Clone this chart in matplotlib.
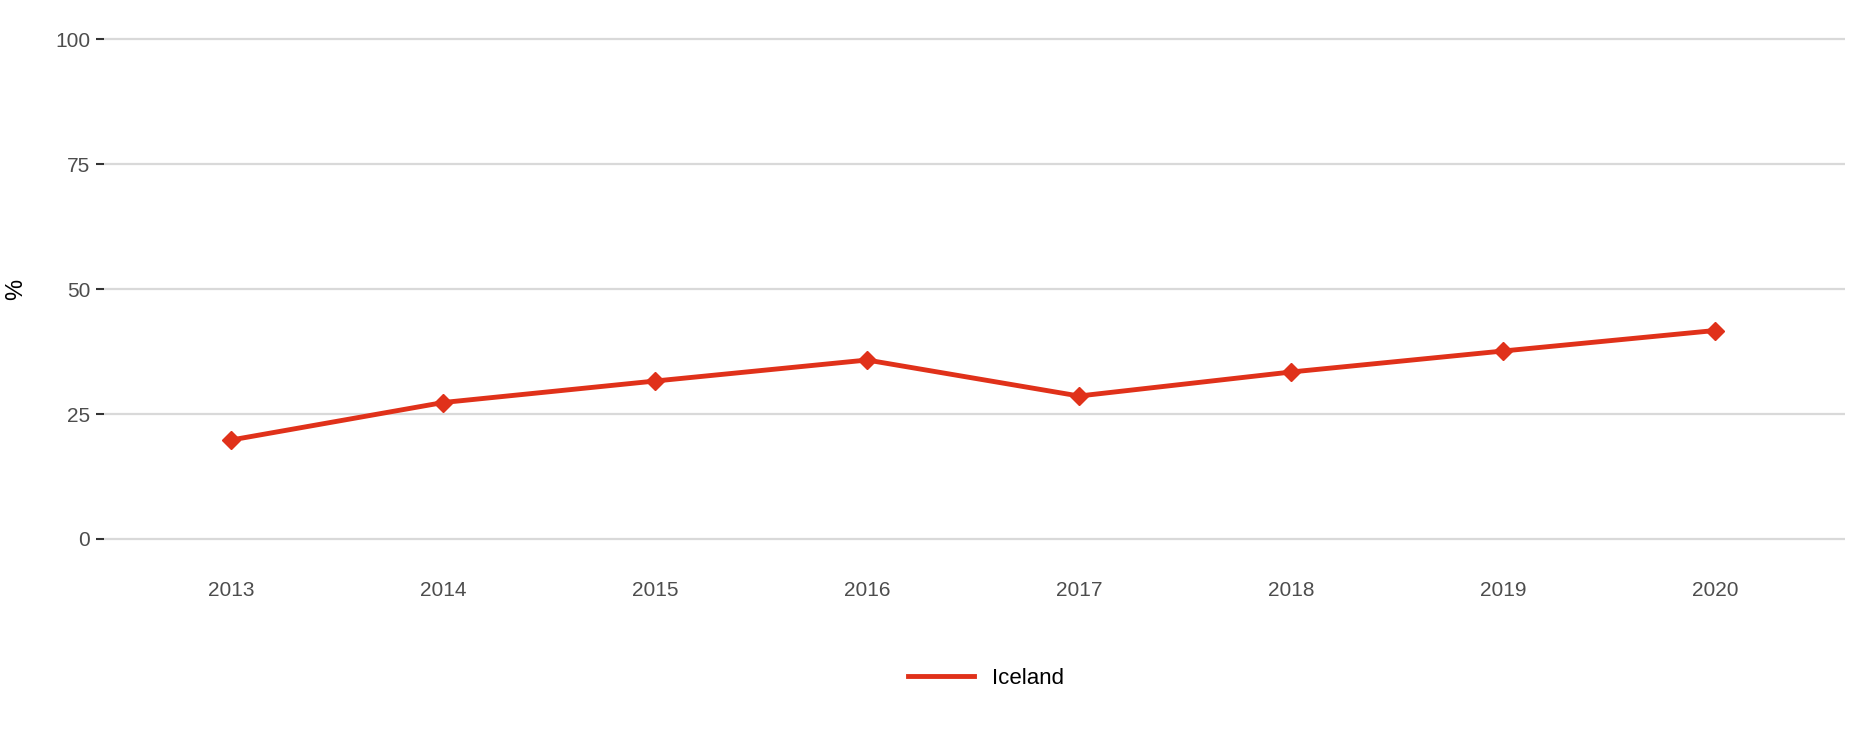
import matplotlib.pyplot as plt
from matplotlib.lines import Line2D

plt.rcParams['font.family'] = 'Liberation Sans'

years = [2013, 2014, 2015, 2016, 2017, 2018, 2019, 2020]
iceland = [19.8, 27.3, 31.6, 35.8, 28.6, 33.4, 37.6, 41.7]
yticks = [0, 25, 50, 75, 100]
color = '#e0311a'

fig = plt.figure(figsize=(18.6, 7.44), dpi=100)
ax = fig.add_axes([0.056, 0.242, 0.936, 0.739])

for y in yticks:
    ax.axhline(y, color='#d9d9d9', lw=1.6, zorder=0)
ax.plot(years, iceland, color=color, lw=3.5, marker='D', markersize=9, zorder=3)

ax.set_xlim(2012.4, 2020.615)
ax.set_ylim(-5, 105)
ax.set_xticks(years)
ax.set_xticklabels([str(y) for y in years], fontsize=15, color='#4d4d4d')
ax.set_yticks(yticks)
ax.set_yticklabels([str(y) for y in yticks], fontsize=15, color='#4d4d4d')
ax.tick_params(axis='x', length=0, pad=12)
ax.tick_params(axis='y', length=6, width=1.5, color='#333333', pad=4)
for s in ax.spines.values():
    s.set_visible(False)
ax.set_ylabel('%', fontsize=17)
ax.yaxis.set_label_coords(-0.044, 0.5)

fig.legend(handles=[Line2D([], [], color=color, lw=3.5)], labels=['Iceland'],
           loc='center', bbox_to_anchor=(0.53, 0.088), frameon=False,
           prop={'size': 16}, handlelength=3)

fig.savefig('out.png')
